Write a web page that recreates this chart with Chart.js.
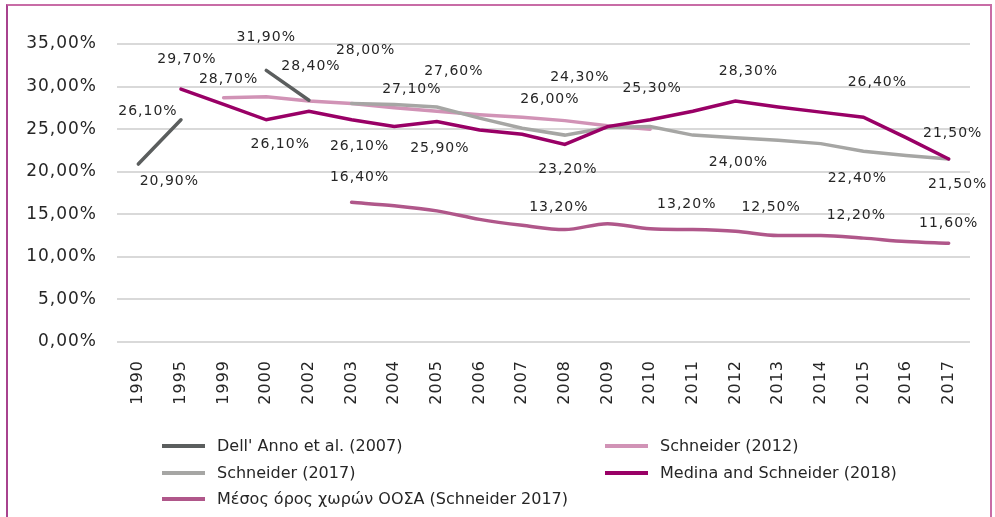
<!DOCTYPE html>
<html>
<head>
<meta charset="utf-8">
<script src="https://cdn.jsdelivr.net/npm/chart.js@4.4.1/dist/chart.umd.min.js"></script>
<style>
  html, body { margin: 0; padding: 0; background: #fff; }
  #wrap { position: relative; width: 995px; height: 517px; overflow: hidden; }
  #frame { position: absolute; left: 6px; top: 4px; width: 982px; height: 600px;
           border: 2px solid #c86ca6; border-left-color: #a8428e; }
  #chartBox { position: absolute; left: 0; top: 0; width: 995px; height: 517px; }
  #legend { position: absolute; left: 162px; top: 433px; width: 700px;
            font-family: "DejaVu Sans", sans-serif; font-size: 16px; color: #262626; }
  .leg-item { position: absolute; height: 26px; line-height: 26px; white-space: nowrap; }
  .leg-item span.sw { position: absolute; left: 0; top: 11px; width: 43px; height: 4px; }
  .leg-item span.tx { position: absolute; left: 55px; top: 0; }
</style>
</head>
<body>
<div id="wrap">
  <div id="frame"></div>
  <div id="chartBox"><canvas id="mainChart"></canvas></div>
  <div id="legend"></div>
</div>
<script>
// категории (годы)
const years = ['1990', '1995', '1999', '2000', '2002', '2003', '2004', '2005', '2006', '2007',
               '2008', '2009', '2010', '2011', '2012', '2013', '2014', '2015', '2016', '2017'];

// значения рядов, %
const dellAnno = [20.9, 26.1, null, 31.9, 28.4, null, null, null, null, null,
                  null, null, null, null, null, null, null, null, null, null];
const schneider2012 = [null, null, 28.7, 28.8, 28.3, 28.0, 27.5, 27.1, 26.7, 26.4,
                       26.0, 25.4, 25.0, null, null, null, null, null, null, null];
const schneider2017 = [null, null, null, null, null, 28.0, 27.9, 27.6, 26.3, 25.1,
                       24.3, 25.2, 25.3, 24.3, 24.0, 23.7, 23.3, 22.4, 21.9, 21.5];
const medina = [null, 29.7, 27.9, 26.1, 27.1, 26.1, 25.3, 25.9, 24.9, 24.4,
                23.2, 25.3, 26.1, 27.1, 28.3, 27.6, 27.0, 26.4, 24.0, 21.5];
const oecdAvg = [null, null, null, null, null, 16.4, 16.0, 15.4, 14.4, 13.7,
                 13.2, 13.9, 13.3, 13.2, 13.0, 12.5, 12.5, 12.2, 11.8, 11.6];

// подписи осей
const yTicks = [0, 5, 10, 15, 20, 25, 30, 35];
const seriesNames = ['Dell\' Anno et al. (2007)', 'Schneider (2012)', 'Schneider (2017)',
                     'Medina and Schneider (2018)', 'Μέσος όρος χωρών ΟΟΣΑ (Schneider 2017)'];

// где стоят подписи значений (индекс точки -> сдвиг)
const dellAnnoLabels = { 0: [31, 17], 1: [-33, -8], 3: [0, -33], 4: [2, -34] };
const schneider2012Labels = { 2: [5, -18], 7: [-25, -22], 10: [-15, -21] };
const schneider2017Labels = { 5: [14, -53], 7: [17, -36], 10: [15, -58], 12: [2, -38],
                              14: [3, 25], 17: [-6, 27], 19: [9, 25] };
const medinaLabels = { 1: [6, -30], 3: [14, 25], 5: [8, 27], 7: [3, 27], 10: [3, 25],
                       14: [13, -30], 17: [14, -35], 19: [4, -26] };
const oecdLabels = { 5: [8, -25], 10: [-6, -22], 13: [-6, -25], 15: [-7, -28], 17: [-7, -23], 19: [0, -20] };

function pct(v) {
    return v.toFixed(2).replace('.', ',') + '%';
}

function makeSeries(name, data, color, labels, order, smooth) {
    return {
        label: name,
        data: data,
        borderColor: color,
        backgroundColor: color,
        borderWidth: 3.5,
        borderCapStyle: 'round',
        pointRadius: 0,
        pointHoverRadius: 0,
        spanGaps: false,
        cubicInterpolationMode: smooth ? 'monotone' : 'default',
        tension: 0,
        order: order,
        labelOffsets: labels
    };
}

const datasets = [
    makeSeries(seriesNames[0], dellAnno, '#5b5e5e', dellAnnoLabels, 1, false),
    makeSeries(seriesNames[1], schneider2012, '#d193b6', schneider2012Labels, 3, false),
    makeSeries(seriesNames[2], schneider2017, '#a6a6a4', schneider2017Labels, 2, false),
    makeSeries(seriesNames[3], medina, '#990066', medinaLabels, 0, false),
    makeSeries(seriesNames[4], oecdAvg, '#b0578a', oecdLabels, 4, true)
];

// межбуквенный интервал как в оригинале
const spacingPlugin = {
    id: 'spacing',
    beforeDraw(chart) {
        chart.ctx.letterSpacing = '1px';
    }
};

// подписи значений у точек
const valueLabels = {
    id: 'valueLabels',
    afterDatasetsDraw(chart) {
        const ctx = chart.ctx;
        ctx.save();
        ctx.font = '14px "DejaVu Sans"';
        ctx.letterSpacing = '1px';
        ctx.fillStyle = '#262626';
        ctx.textAlign = 'center';
        ctx.textBaseline = 'middle';
        chart.data.datasets.forEach((ds, di) => {
            const meta = chart.getDatasetMeta(di);
            Object.keys(ds.labelOffsets).forEach(k => {
                const i = Number(k);
                const pt = meta.data[i];
                const off = ds.labelOffsets[k];
                ctx.fillText(pct(ds.data[i]), pt.x + off[0], pt.y + off[1]);
            });
        });
        ctx.restore();
    }
};

const ctx = document.getElementById('mainChart').getContext('2d');
const myChart = new Chart(ctx, {
    type: 'line',
    data: { labels: years, datasets: datasets },
    plugins: [spacingPlugin, valueLabels],
    options: {
        responsive: true,
        maintainAspectRatio: false,
        animation: false,
        layout: { padding: { top: 44, right: 25, left: 0, bottom: 0 } },
        plugins: {
            legend: { display: false },
            tooltip: { enabled: false }
        },
        scales: {
            x: {
                offset: true,
                grid: { display: false, drawTicks: false },
                border: { display: false },
                ticks: {
                    autoSkip: false,
                    minRotation: 90,
                    maxRotation: 90,
                    padding: 18,
                    color: '#262626',
                    font: { family: 'DejaVu Sans', size: 16 }
                },
                afterFit: function(scale) { scale.height = 175; }
            },
            y: {
                min: 0,
                max: 35,
                afterBuildTicks: function(scale) {
                    scale.ticks = yTicks.map(v => ({ value: v }));
                },
                grid: { color: '#d9d9d9', lineWidth: 2, drawTicks: false },
                border: { display: false },
                ticks: {
                    padding: 20,
                    color: '#262626',
                    font: { family: 'DejaVu Sans', size: 17 },
                    callback: function(value) { return pct(value); }
                },
                afterFit: function(scale) { scale.width = 117; }
            }
        }
    }
});

// легенда в две колонки
function buildLegend() {
    const box = document.getElementById('legend');
    const cols = [0, 443];
    myChart.data.datasets.forEach((ds, i) => {
        const item = document.createElement('div');
        item.className = 'leg-item';
        item.style.left = cols[i % 2] + 'px';
        item.style.top = (Math.floor(i / 2) * 26.5) + 'px';
        item.innerHTML = '<span class="sw" style="background:' + ds.borderColor + '"></span>' +
                         '<span class="tx">' + ds.label + '</span>';
        box.appendChild(item);
    });
}
buildLegend();
</script>
</body>
</html>
